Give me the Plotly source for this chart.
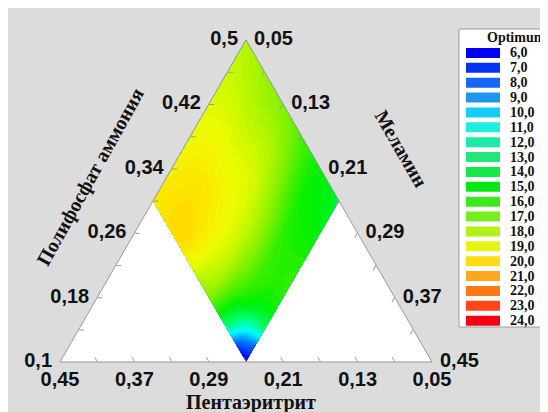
import math
import plotly.graph_objects as go

# the page adds an 8 px margin; figure fills the rest of the 548x412 window
OFF = 8
W, H = 548 - OFF, 412 - OFF

# ---------------- data ----------------
# composition grid (mass fractions); ammonium polyphosphate = 0.6 - pent - mel
pentaerythritol = [0.05, 0.07, 0.09, 0.11, 0.13, 0.15, 0.17, 0.19, 0.21, 0.23, 0.25]
melamine = [0.05, 0.07, 0.09, 0.11, 0.13, 0.15, 0.17, 0.19, 0.21, 0.23, 0.25]
# Optimum response, rows = melamine, columns = pentaerythritol
optimum = [
    [17.9, 18.1, 18.3, 18.5, 18.7, 18.9, 19.1, 19.3, 19.5, 19.6, 19.6],
    [17.6, 17.9, 18.2, 18.5, 18.8, 19.1, 19.4, 19.6, 19.8, 19.9, 19.9],
    [17.4, 17.7, 18.0, 18.4, 18.8, 19.1, 19.5, 19.8, 20.0, 20.2, 20.1],
    [17.2, 17.5, 17.9, 18.3, 18.7, 19.0, 19.4, 19.7, 19.9, 20.1, 19.9],
    [17.0, 17.4, 17.9, 18.3, 18.7, 18.9, 19.1, 19.3, 19.4, 19.3, 18.9],
    [16.7, 17.1, 17.6, 18.0, 18.4, 18.6, 18.7, 18.8, 18.7, 18.4, 17.9],
    [16.1, 16.5, 16.9, 17.3, 17.6, 17.9, 18.0, 18.0, 17.9, 17.6, 16.9],
    [15.5, 15.7, 15.9, 16.3, 16.7, 16.9, 17.0, 16.9, 16.5, 15.9, 15.2],
    [15.0, 15.0, 15.1, 15.4, 15.6, 15.8, 15.9, 15.8, 15.3, 14.0, 12.3],
    [14.7, 14.8, 15.0, 15.2, 15.4, 15.5, 15.5, 15.2, 14.1, 11.0, 7.0],
    [14.3, 14.6, 14.9, 15.2, 15.5, 15.7, 15.6, 15.0, 13.3, 8.0, 5.5],
]
TOTAL = 0.6
A_MIN, B_MIN, C_MIN = 0.10, 0.05, 0.05

NB = "\u00a0"
a_tickvals = [0.10, 0.14, 0.18, 0.22, 0.26, 0.30, 0.34, 0.38, 0.42, 0.46, 0.50]
a_ticktext = ["0,1", "", "0,18", "", "0,26", "", "0,34", "", "0,42", "", "0,5"]
bc_tickvals = [0.05, 0.09, 0.13, 0.17, 0.21, 0.25, 0.29, 0.33, 0.37, 0.41, 0.45]
bc_ticktext = ["0,05", "", "0,13", "", "0,21", "", "0,29", "", "0,37", "", "0,45"]

legend_values = [6, 7, 8, 9, 10, 11, 12, 13, 14, 15, 16, 17, 18, 19, 20, 21, 22, 23, 24]
legend_labels = ["6,0", "7,0", "8,0", "9,0", "10,0", "11,0", "12,0", "13,0", "14,0", "15,0",
                 "16,0", "17,0", "18,0", "19,0", "20,0", "21,0", "22,0", "23,0", "24,0"]
legend_colors = ["#0000f5", "#0533f5", "#1566f5", "#1e96f0", "#14cdf8", "#1eeee2", "#1eeaa8",
                 "#22e678", "#17e84a", "#08e614", "#3ce81e", "#78ee1e", "#b4f01a", "#e4f514",
                 "#ffdc14", "#ffa81e", "#ff7814", "#ff4614", "#f50014"]
# the same palette as rendered (more saturated) inside the plot area
field_colors = ["#0000ff", "#0040ff", "#0070ff", "#00a0ff", "#00d4ff", "#00ffff", "#00ffb4",
                "#00ff78", "#00f846", "#00f000", "#44f000", "#84f200", "#bcf600", "#f0fc00",
                "#ffe000", "#ffac00", "#ff7800", "#ff4400", "#ff0000"]


def px(x):   # window pixel x -> paper fraction
    return (x - OFF) / W


def py(y):   # window pixel y -> paper fraction
    return 1 - (y - OFF) / H


# ---------------- geometry (window pixels) ----------------
tri_w = 372.0
tri_h = tri_w * math.sqrt(3) / 2
xc, yc = 246.0, 200.9
tern_dom_x = [px(xc - tri_w / 2), px(xc + tri_w / 2)]
tern_dom_y = [py(yc + 180), py(yc - 180)]
cart_dom_y = [py(yc + tri_h / 2), py(yc - tri_h / 2)]

span = TOTAL - A_MIN - B_MIN - C_MIN


def to_xy(p, m):
    a = (TOTAL - p - m - A_MIN) / span
    c = (m - C_MIN) / span
    return c + a / 2, a


cx = [[to_xy(p, m)[0] for p in pentaerythritol] for m in melamine]
cy = [[to_xy(p, m)[1] for p in pentaerythritol] for m in melamine]

colorscale = [[(v - 6) / 18, col] for v, col in zip(legend_values, field_colors)]

fig = go.Figure()

carpet_axis = dict(showgrid=False, showline=False, showticklabels="none", startline=False,
                   endline=False, minorgridcount=0)
fig.add_trace(go.Carpet(
    a=pentaerythritol, b=melamine, x=cx, y=cy, carpet="c1",
    aaxis=carpet_axis, baxis=carpet_axis,
))
fig.add_trace(go.Contourcarpet(
    a=pentaerythritol, b=melamine, z=optimum, carpet="c1",
    autocontour=False,
    contours=dict(start=5.0, end=24.0, size=0.2, coloring="fill", showlines=False),
    line=dict(width=0),
    colorscale=colorscale, zmin=6, zmax=24, showscale=False,
))

fig.add_trace(go.Scatterternary(a=[], b=[], c=[], mode="markers", showlegend=False))

axis_common = dict(
    showgrid=False, showline=True, linecolor="#9a9a9a", linewidth=1,
    ticks="inside", ticklen=5, tickcolor="#9a9a9a", tickwidth=1,
    tickmode="array",
    tickfont=dict(family="Liberation Sans, Arial", size=20, color="#111111", weight="bold"),
    title=dict(text=""),
)

fig.update_layout(
    width=W, height=H,
    margin=dict(l=0, r=0, t=0, b=0),
    paper_bgcolor="#dcdcdc",
    plot_bgcolor="rgba(0,0,0,0)",
    showlegend=False,
    xaxis=dict(domain=tern_dom_x, range=[0, 1], visible=False, anchor="y"),
    yaxis=dict(domain=cart_dom_y, range=[0, 1], visible=False, anchor="x"),
    ternary=dict(
        domain=dict(x=tern_dom_x, y=tern_dom_y),
        sum=TOTAL,
        bgcolor="rgba(0,0,0,0)",
        aaxis=dict(min=A_MIN, tickvals=a_tickvals,
                   ticktext=[t + NB if t else t for t in a_ticktext], **axis_common),
        baxis=dict(min=B_MIN, tickvals=bc_tickvals, ticktext=bc_ticktext, **axis_common),
        caxis=dict(min=C_MIN, tickvals=bc_tickvals,
                   ticktext=[NB + t if t else t for t in bc_ticktext], **axis_common),
    ),
)

# white interior of the ternary frame (under the traces)
shapes = [dict(type="path", xref="x", yref="y", path="M0,0 L1,0 L0.5,1 Z",
               fillcolor="white", line=dict(width=0), layer="below")]
annotations = []

serif = "Liberation Serif, Times New Roman, serif"
annotations.append(dict(text="Полифосфат аммония", x=px(91), y=py(177), xref="paper",
                        yref="paper", xanchor="center", yanchor="middle", showarrow=False,
                        textangle=-61,
                        font=dict(family=serif, size=20, color="#111111", weight="bold")))
annotations.append(dict(text="Меламин", x=px(401), y=py(148), xref="paper", yref="paper",
                        xanchor="center", yanchor="middle", showarrow=False, textangle=60,
                        font=dict(family=serif, size=20, color="#111111", weight="bold")))
annotations.append(dict(text="Пентаэритрит", x=px(251), y=py(402), xref="paper",
                        yref="paper", xanchor="center", yanchor="middle", showarrow=False,
                        font=dict(family=serif, size=20, color="#111111", weight="bold")))

# legend box
shapes.append(dict(type="rect", xref="paper", yref="paper", x0=px(459), x1=1.05,
                   y0=py(327), y1=py(29), fillcolor="white",
                   line=dict(color="#9a9a9a", width=1)))
annotations.append(dict(text="Optimum", x=px(485), y=py(38), xref="paper", yref="paper",
                        xanchor="left", yanchor="middle", showarrow=False,
                        font=dict(family=serif, size=14, color="#111111", weight="bold")))
for i, (lab, col) in enumerate(zip(legend_labels, legend_colors)):
    yc_px = 53 + 14.87 * i
    shapes.append(dict(type="rect", xref="paper", yref="paper", x0=px(466), x1=px(500),
                       y0=py(yc_px + 5), y1=py(yc_px - 5), fillcolor=col,
                       line=dict(width=0)))
    annotations.append(dict(text=lab, x=px(508), y=py(yc_px), xref="paper", yref="paper",
                            xanchor="left", yanchor="middle", showarrow=False,
                            font=dict(family=serif, size=14, color="#111111", weight="bold")))

fig.update_layout(shapes=shapes, annotations=annotations)

fig.write_html("out.html")
